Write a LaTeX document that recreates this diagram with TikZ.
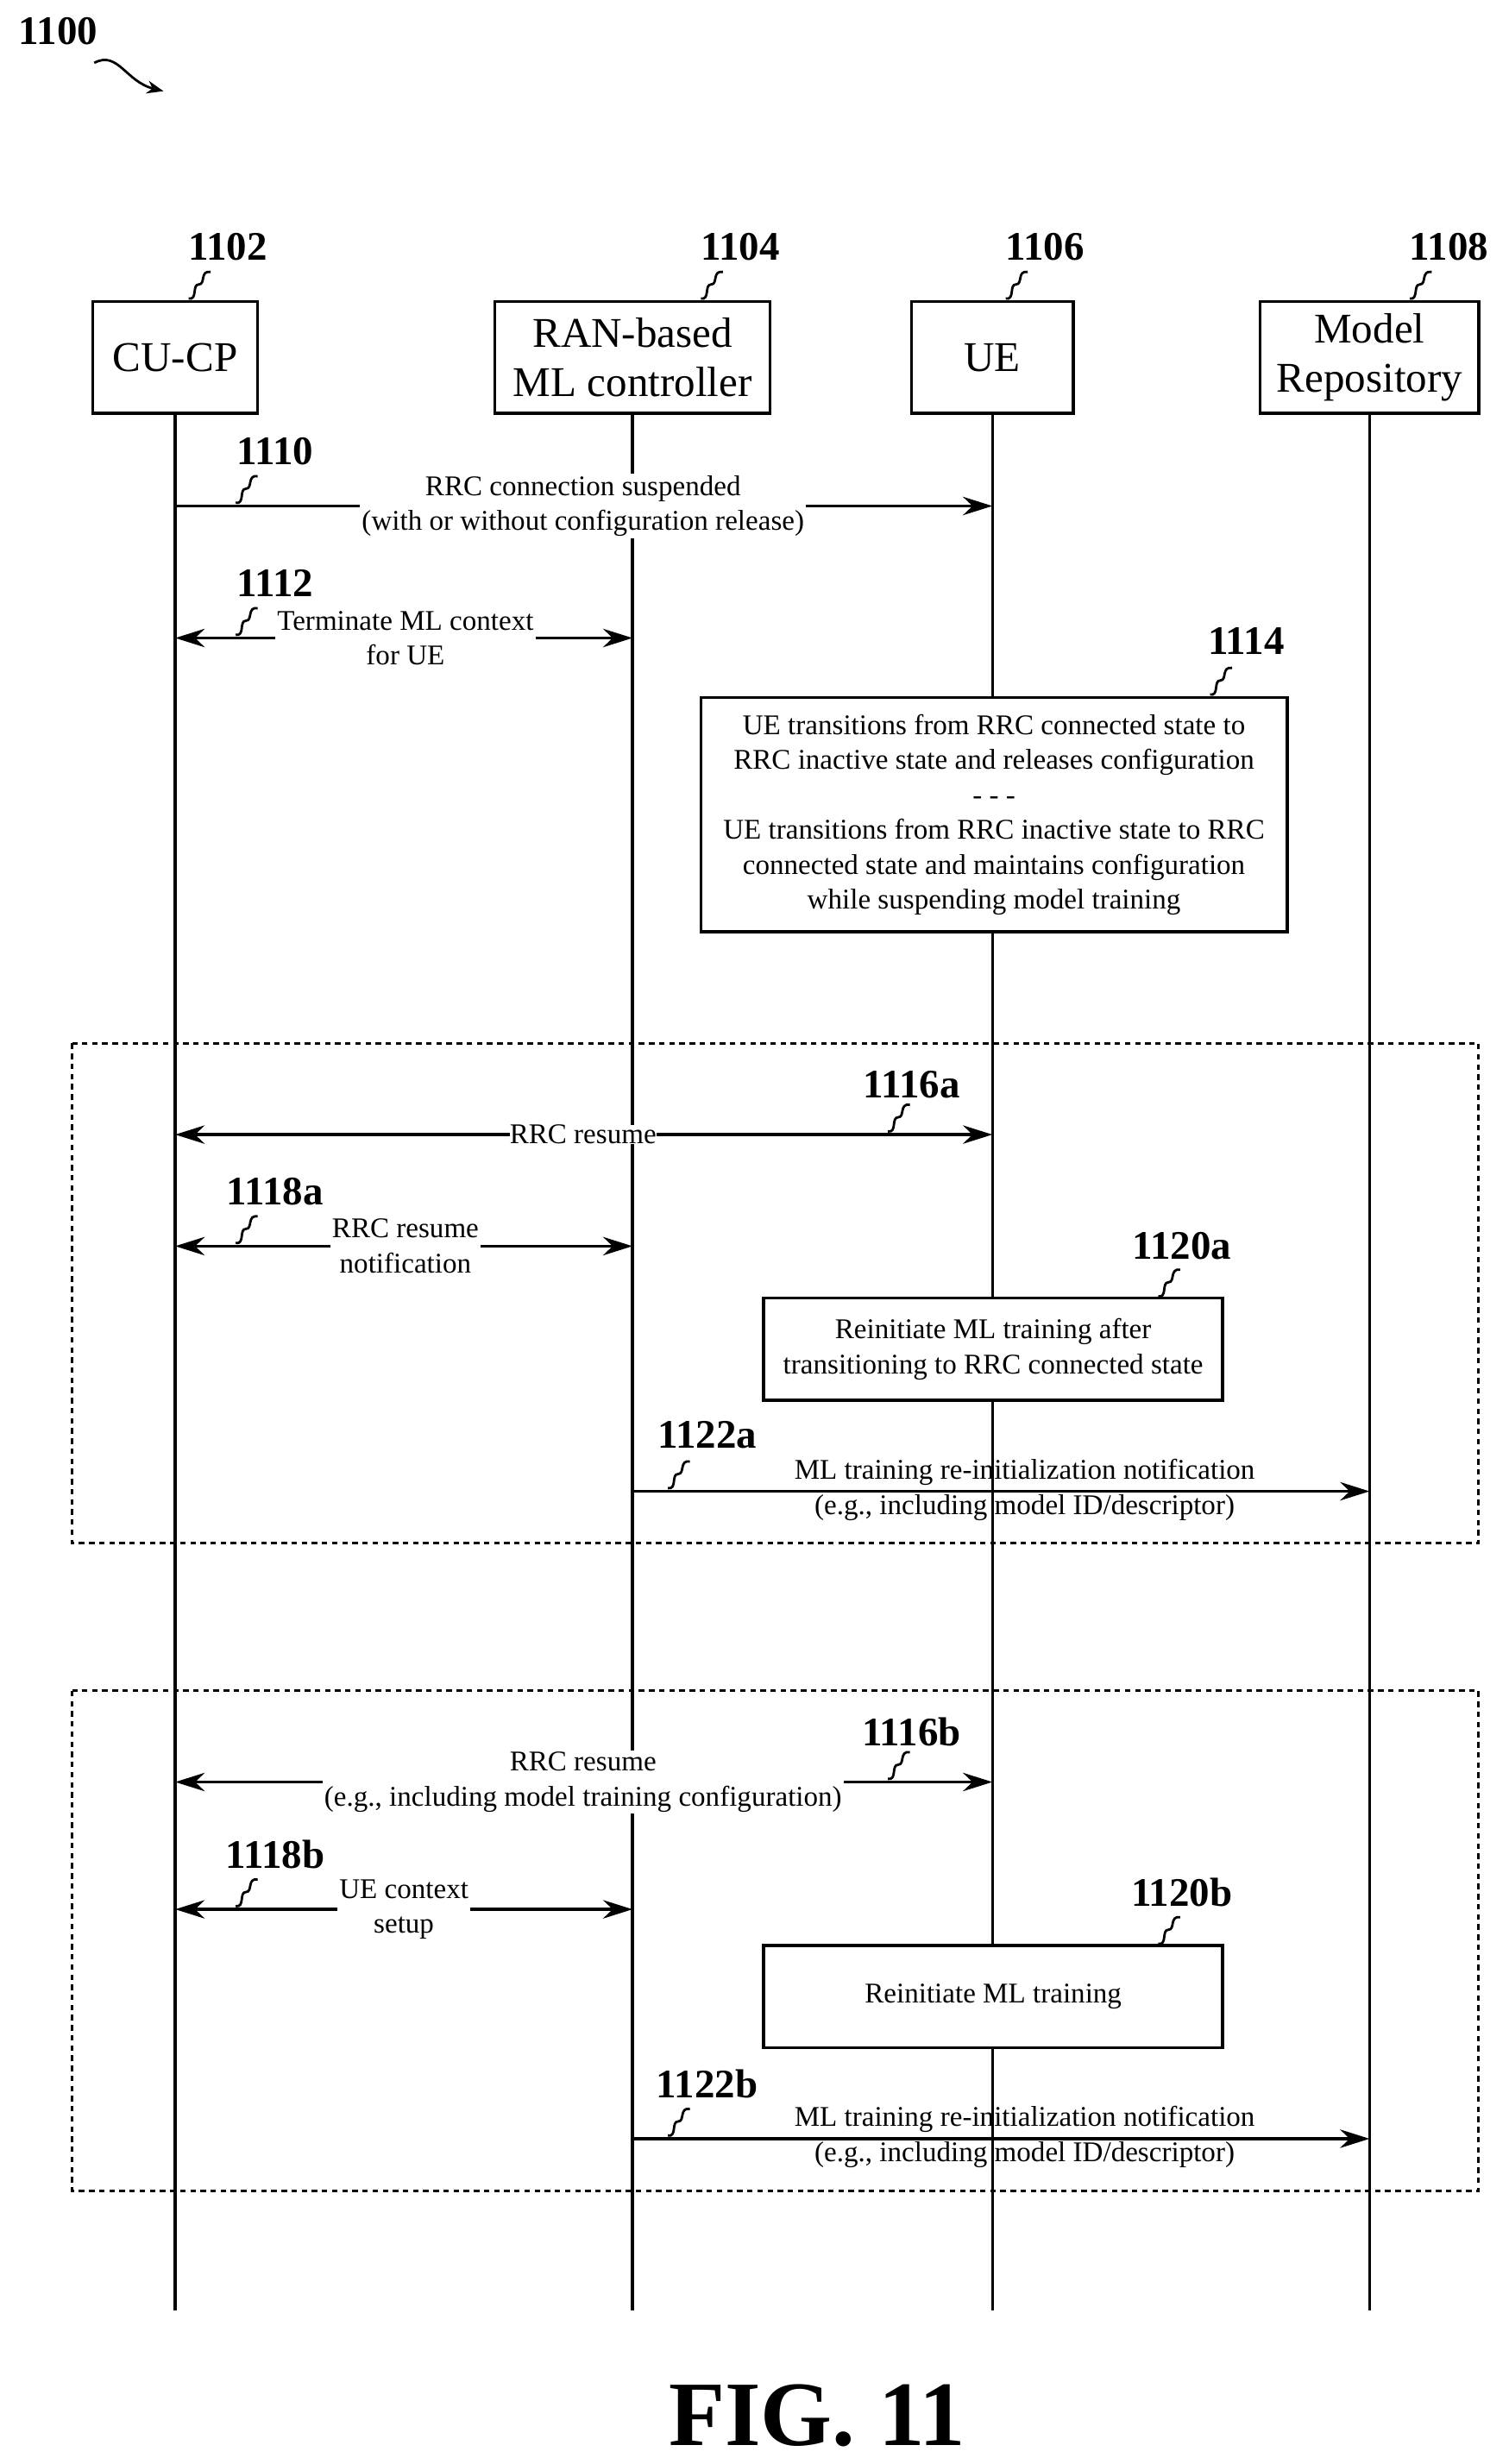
\documentclass[tikz,border=0pt]{standalone}
\usepackage{fontspec}
\setmainfont{Liberation Serif}
\usetikzlibrary{arrows.meta}

\tikzset{
  actor/.style={draw, fill=white, line width=1.6pt, minimum height=60.6pt, inner sep=2pt, align=center, font=\fontsize{23}{27}\selectfont},
  life/.style={line width=1.6pt},
  msg/.style={line width=1.6pt, -{Stealth[length=16pt,width=10pt]}},
  dmsg/.style={line width=1.6pt, {Stealth[length=16pt,width=10pt]}-{Stealth[length=16pt,width=10pt]}},
  lbl/.style={fill=white, inner sep=1pt, align=center, font=\fontsize{15.5}{19}\selectfont},
  note/.style={draw, fill=white, line width=1.6pt, align=center, font=\fontsize{15.5}{19}\selectfont},
  num/.style={font=\fontsize{22}{24}\selectfont\bfseries, inner sep=0pt},
  grp/.style={draw, line width=1.4pt, dash pattern=on 3pt off 2.5pt},
  squig/.pic={\draw[line width=1.3pt] (0,0) .. controls (6,1) and (2,-9) .. (6.5,-9) .. controls (11,-9) and (7,-18) .. (14,-17);}
}

\begin{document}
\begin{tikzpicture}[x=0.03cm, y=-0.03cm]
  \useasboundingbox (0,0) rectangle (960,1568);

  % actors
  \node[actor, minimum width=89.6pt] (cu) at (111.5,227.5) {CU-CP};
  \node[actor, minimum width=149.4pt] (ran) at (402.5,227.5) {RAN-based\\ML controller};
  \node[actor, minimum width=87.9pt] (ue) at (631.5,227.5) {UE};
  \node[actor, minimum width=118.7pt] (rep) at (871.5,227.5) {Model\\Repository};
  \coordinate (bot) at (0,1470);
  \foreach \a in {cu,ran,ue,rep}
    \draw[life] (\a.south) -- (\a |- bot);

  % reference numerals
  \node[num] (n1100) at (37,20) {1100};
  \draw[line width=1.3pt, -{Stealth[length=9pt,width=7pt]}] (60,40) .. controls (75,32) and (80,52) .. (104,58);
  \node[num] (n1102) at (145,157) {1102};
  \node[num] (n1104) at (471,157) {1104};
  \node[num] (n1106) at (665,157) {1106};
  \node[num] (n1108) at (922,157) {1108};
  \foreach \x in {120,446,640,897} \pic at (\x,190) {squig};

  % 1110
  \coordinate (r1) at (0,322);
  \draw[msg] (cu |- r1) -- (ue |- r1);
  \node[lbl] (t1110) at (371,322) {RRC connection suspended\\(with or without configuration release)};
  \node[num] (n1110) at (175,287) {1110};
  \pic at (150,320) {squig};

  % 1112
  \coordinate (r2) at (0,406);
  \draw[dmsg] (cu |- r2) -- (ran |- r2);
  \node[lbl] (t1112) at (258,406) {Terminate ML context\\for UE};
  \node[num] (n1112) at (175,371) {1112};
  \pic at (150,404) {squig};

  % 1114
  \node[note, minimum width=318.4pt, minimum height=127.2pt] (b1114) at (632.5,518.5)
    {UE transitions from RRC connected state to\\RRC inactive state and releases configuration\\- - -\\UE transitions from RRC inactive state to RRC\\connected state and maintains configuration\\while suspending model training};
  \node[num] (n1114) at (793,408) {1114};
  \pic at (770,442) {squig};

  % group a
  \draw[grp] (46,664) rectangle (941,982);
  \coordinate (r3) at (0,722);
  \draw[dmsg] (cu |- r3) -- (ue |- r3);
  \node[lbl, inner sep=0pt] (t1116a) at (371,722) {RRC resume};
  \node[num] (n1116a) at (580,690) {1116a};
  \pic at (565,720) {squig};

  \coordinate (r4) at (0,793);
  \draw[dmsg] (cu |- r4) -- (ran |- r4);
  \node[lbl] (t1118a) at (258,793) {RRC resume\\notification};
  \node[num] (n1118a) at (175,758) {1118a};
  \pic at (150,791) {squig};

  \node[note, minimum width=249.3pt, minimum height=55.5pt] (b1120a) at (632,858.5)
    {Reinitiate ML training after\\transitioning to RRC connected state};
  \node[num] (n1120a) at (752,793) {1120a};
  \pic at (737,825) {squig};

  \coordinate (r5) at (0,949);
  \draw[msg] (ran |- r5) -- (rep |- r5);
  \node[lbl, fill=none] (t1122a) at (652,948) {ML training re-initialization notification\\(e.g., including model ID/descriptor)};
  \node[num] (n1122a) at (450,913) {1122a};
  \pic at (425,947) {squig};

  % group b
  \draw[grp] (46,1076) rectangle (941,1394);
  \coordinate (r6) at (0,1134);
  \draw[dmsg] (cu |- r6) -- (ue |- r6);
  \node[lbl] (t1116b) at (371,1134) {RRC resume\\(e.g., including model training configuration)};
  \node[num] (n1116b) at (580,1102) {1116b};
  \pic at (565,1132) {squig};

  \coordinate (r7) at (0,1215);
  \draw[dmsg] (cu |- r7) -- (ran |- r7);
  \node[lbl] (t1118b) at (257,1215) {UE context\\setup};
  \node[num] (n1118b) at (175,1180) {1118b};
  \pic at (150,1213) {squig};

  \node[note, minimum width=249.3pt, minimum height=55.5pt] (b1120b) at (632,1270.5) {Reinitiate ML training};
  \node[num] (n1120b) at (752,1204) {1120b};
  \pic at (737,1237) {squig};

  \coordinate (r8) at (0,1361);
  \draw[msg] (ran |- r8) -- (rep |- r8);
  \node[lbl, fill=none] (t1122b) at (652,1360) {ML training re-initialization notification\\(e.g., including model ID/descriptor)};
  \node[num] (n1122b) at (450,1326) {1122b};
  \pic at (425,1359) {squig};

  \node[font=\fontsize{50}{56}\selectfont\bfseries] (fig) at (520,1537) {FIG. 11};
\end{tikzpicture}
\end{document}
